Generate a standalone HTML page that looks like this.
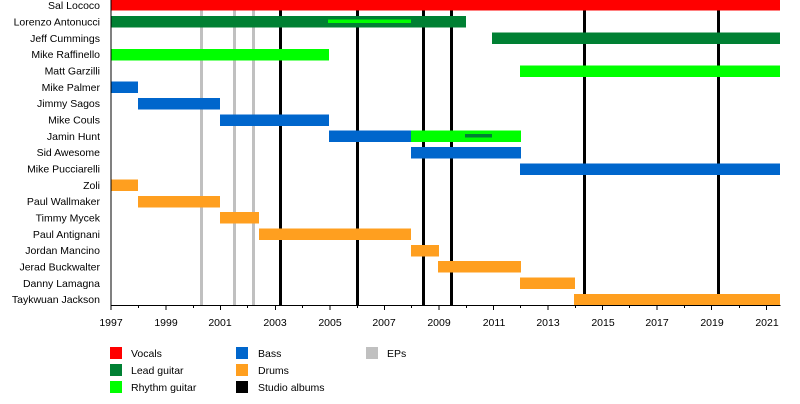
<!DOCTYPE html>
<html><head><meta charset="utf-8"><style>html,body{margin:0;padding:0;background:#fff}svg{display:block}</style></head>
<body>
<svg width="800" height="404" xmlns="http://www.w3.org/2000/svg" font-family="Liberation Sans, sans-serif" font-size="10.5">
<g id="vl">
<rect x="200" y="0" width="3" height="305" fill="#c0c0c0"/>
<rect x="233" y="0" width="3" height="305" fill="#c0c0c0"/>
<rect x="252" y="0" width="3" height="305" fill="#c0c0c0"/>
<rect x="279" y="0" width="3" height="305" fill="#000"/>
<rect x="356" y="0" width="3" height="305" fill="#000"/>
<rect x="422" y="0" width="3" height="305" fill="#000"/>
<rect x="450" y="0" width="3" height="305" fill="#000"/>
<rect x="583" y="0" width="3" height="305" fill="#000"/>
<rect x="717" y="0" width="3" height="305" fill="#000"/>
</g>
<g>
<rect x="111" y="-1" width="669" height="11.5" fill="#ff0000"/>
<rect x="111" y="16" width="355" height="11.5" fill="#008033"/>
<rect x="328" y="19.5" width="83" height="3.5" fill="#00ff00"/>
<rect x="492" y="32.5" width="288" height="11.5" fill="#008033"/>
<rect x="111" y="49" width="218" height="11.5" fill="#00ff00"/>
<rect x="520" y="65.5" width="260" height="11.5" fill="#00ff00"/>
<rect x="111" y="81.5" width="27" height="11.5" fill="#0066cc"/>
<rect x="138" y="98" width="82" height="11.5" fill="#0066cc"/>
<rect x="220" y="114.5" width="109" height="11.5" fill="#0066cc"/>
<rect x="329" y="130.5" width="82" height="11.5" fill="#0066cc"/>
<rect x="411" y="130.5" width="110" height="11.5" fill="#00ff00"/>
<rect x="465" y="134" width="27" height="3.5" fill="#008033"/>
<rect x="411" y="147" width="110" height="11.5" fill="#0066cc"/>
<rect x="520" y="163.5" width="260" height="11.5" fill="#0066cc"/>
<rect x="111" y="179.5" width="27" height="11.5" fill="#ff9f1f"/>
<rect x="138" y="196" width="82" height="11.5" fill="#ff9f1f"/>
<rect x="220" y="212" width="39" height="11.5" fill="#ff9f1f"/>
<rect x="259" y="228.5" width="152" height="11.5" fill="#ff9f1f"/>
<rect x="411" y="245" width="28" height="11.5" fill="#ff9f1f"/>
<rect x="438" y="261" width="83" height="11.5" fill="#ff9f1f"/>
<rect x="520" y="277.5" width="55" height="11.5" fill="#ff9f1f"/>
<rect x="574" y="294" width="206" height="11.5" fill="#ff9f1f"/>
</g>
<g text-anchor="end" fill="#000">
<text x="100" y="9">Sal Lococo</text>
<text x="100" y="25.5">Lorenzo Antonucci</text>
<text x="100" y="42">Jeff Cummings</text>
<text x="100" y="58">Mike Raffinello</text>
<text x="100" y="74.5">Matt Garzilli</text>
<text x="100" y="91">Mike Palmer</text>
<text x="100" y="107">Jimmy Sagos</text>
<text x="100" y="123.5">Mike Couls</text>
<text x="100" y="140">Jamin Hunt</text>
<text x="100" y="156">Sid Awesome</text>
<text x="100" y="172.5">Mike Pucciarelli</text>
<text x="100" y="189">Zoli</text>
<text x="100" y="205">Paul Wallmaker</text>
<text x="100" y="221.5">Timmy Mycek</text>
<text x="100" y="238">Paul Antignani</text>
<text x="100" y="254">Jordan Mancino</text>
<text x="100" y="270.5">Jerad Buckwalter</text>
<text x="100" y="287">Danny Lamagna</text>
<text x="100" y="303">Taykwuan Jackson</text>
</g>
<rect x="110.5" y="0" width="1" height="306" fill="#000"/>
<rect x="110.5" y="305" width="670" height="1" fill="#000"/>
<g fill="#000" id="ticks"></g>
<g text-anchor="middle">
<text x="111" y="326">1997</text><text x="166" y="326">1999</text><text x="220" y="326">2001</text>
<text x="275" y="326">2003</text><text x="330" y="326">2005</text><text x="384" y="326">2007</text>
<text x="439" y="326">2009</text><text x="494" y="326">2011</text><text x="548" y="326">2013</text>
<text x="603" y="326">2015</text><text x="657" y="326">2017</text><text x="712" y="326">2019</text>
<text x="767" y="326">2021</text>
</g>
<g fill="#000">
<rect x="110.5" y="305" width="1" height="5"/><rect x="138" y="305" width="1" height="3"/>
<rect x="165.5" y="305" width="1" height="5"/><rect x="193" y="305" width="1" height="3"/>
<rect x="220" y="305" width="1" height="5"/><rect x="247" y="305" width="1" height="3"/>
<rect x="275" y="305" width="1" height="5"/><rect x="302" y="305" width="1" height="3"/>
<rect x="329.5" y="305" width="1" height="5"/><rect x="357" y="305" width="1" height="3"/>
<rect x="384" y="305" width="1" height="5"/><rect x="411" y="305" width="1" height="3"/>
<rect x="438.5" y="305" width="1" height="5"/><rect x="466" y="305" width="1" height="3"/>
<rect x="493" y="305" width="1" height="5"/><rect x="520" y="305" width="1" height="3"/>
<rect x="547.5" y="305" width="1" height="5"/><rect x="575" y="305" width="1" height="3"/>
<rect x="602" y="305" width="1" height="5"/><rect x="629" y="305" width="1" height="3"/>
<rect x="656.5" y="305" width="1" height="5"/><rect x="684" y="305" width="1" height="3"/>
<rect x="711" y="305" width="1" height="5"/><rect x="739" y="305" width="1" height="3"/>
<rect x="766" y="305" width="1" height="5"/>
</g>
<g>
<rect x="110" y="347" width="12" height="12" fill="#ff0000"/><text x="131" y="357">Vocals</text>
<rect x="110" y="364" width="12" height="12" fill="#008033"/><text x="131" y="374">Lead guitar</text>
<rect x="110" y="381" width="12" height="12" fill="#00ff00"/><text x="131" y="391">Rhythm guitar</text>
<rect x="236" y="347" width="12" height="12" fill="#0066cc"/><text x="258" y="357">Bass</text>
<rect x="236" y="364" width="12" height="12" fill="#ff9f1f"/><text x="258" y="374">Drums</text>
<rect x="236" y="381" width="12" height="12" fill="#000"/><text x="258" y="391">Studio albums</text>
<rect x="366" y="347" width="12" height="12" fill="#c0c0c0"/><text x="387" y="357">EPs</text>
</g>
</svg>
</body></html>
